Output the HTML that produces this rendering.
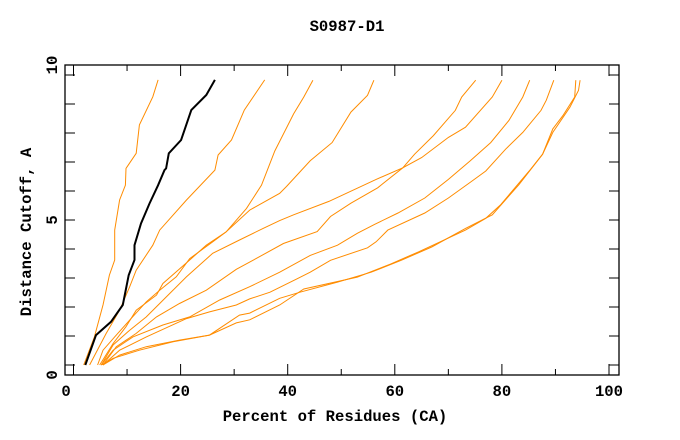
<!DOCTYPE html>
<html><head><meta charset="utf-8"><style>
html,body{margin:0;padding:0;background:#fff;}
svg{display:block;}
text{font-family:"Liberation Mono",monospace;font-weight:bold;font-size:15.6px;fill:#000;}
</style></head><body>
<svg id="chart" width="680" height="440">
<text x="347" y="31" text-anchor="middle">S0987-D1</text>
<text x="335" y="421" text-anchor="middle">Percent of Residues (CA)</text>
<text transform="translate(31,232) rotate(-90)" text-anchor="middle">Distance Cutoff, A</text>
<g id="axes"></g>
<g id="series"></g>
</svg>
<script>
const xTicks=[0,10,20,30,40,50,60,70,80,90,100];
const xTickLabels=["0","20","40","60","80","100"];
const yTicks=[0,1,2,3,4,5,6,7,8,9,10];
const yTickLabels=["0","5","10"];
const line1=[[1.9,0],[3.9,0.97],[5.5,2.07],[6.7,3.1],[7.7,3.62],[7.7,4.65],[8.6,5.69],[9.7,6.2],[9.8,6.78],[11.7,7.3],[12.3,8.28],[14.8,9.25],[15.8,9.83]];
const lineBlack=[[2.2,0],[4.2,1.03],[7.0,1.49],[9.2,2.07],[10.3,3.1],[11.4,3.62],[11.4,4.13],[12.6,4.88],[14.2,5.57],[15.8,6.2],[17.0,6.72],[17.3,6.78],[17.8,7.3],[20.1,7.76],[22.0,8.79],[24.8,9.31],[26.4,9.83]];
const line3=[[3.0,0],[6.1,1.09],[8.6,1.89],[10.5,2.7],[11.7,3.27],[14.8,4.13],[16.1,4.65],[21.1,5.69],[26.4,6.72],[27.0,7.24],[29.5,7.76],[31.9,8.79],[35.7,9.83]];
const line4=[[4.5,0],[5.5,0.51],[8.0,1.03],[10.5,1.55],[13.6,2.18],[16.1,2.58],[19.2,3.04],[21.7,3.67],[26.0,4.25],[28.5,4.59],[32.3,5.4],[35.1,6.2],[37.6,7.38],[41.1,8.66],[43.0,9.24],[44.7,9.82]];
const line5=[[4.9,0],[7.4,0.74],[9.8,1.32],[11.7,1.89],[15.5,2.41],[16.7,2.81],[21.7,3.62],[24.8,4.13],[28.5,4.59],[32.9,5.34],[38.5,5.92],[39.8,6.16],[44.2,7.04],[48.3,7.67],[51.8,8.72],[54.9,9.3],[56.1,9.82]];
const line6=[[5.2,0],[7.4,0.69],[10.5,1.2],[13.6,1.66],[16.1,2.12],[21.1,3.04],[26.0,3.85],[31.0,4.31],[35.4,4.71],[38.5,4.98],[41.1,5.18],[47.7,5.64],[56.5,6.4],[61.5,6.8],[63.7,7.27],[67.2,7.91],[71.3,8.78],[72.5,9.24],[75.1,9.82]];
const line7=[[5.5,0],[8.0,0.63],[11.7,1.09],[15.5,1.66],[19.8,2.12],[24.8,2.58],[30.4,3.3],[32.9,3.55],[39.2,4.19],[45.5,4.6],[48.0,5.12],[51.8,5.58],[56.8,6.11],[61.5,6.8],[65.0,7.15],[70.0,7.85],[73.2,8.2],[78.2,9.24],[80.0,9.82]];
const line8=[[5.2,0],[7.4,0.51],[11.1,0.97],[16.7,1.38],[21.7,1.66],[27.3,2.24],[32.9,2.7],[38.5,3.2],[44.2,3.78],[49.3,4.13],[53.0,4.54],[56.2,4.85],[60.6,5.24],[65.6,5.76],[70.0,6.4],[74.1,7.04],[77.9,7.67],[81.3,8.43],[83.9,9.24],[85.2,9.82]];
const line9=[[5.5,0],[8.6,0.51],[13.6,0.97],[21.1,1.6],[25.4,1.83],[30.4,2.07],[32.9,2.28],[36.7,2.51],[41.7,2.97],[44.2,3.2],[48.0,3.61],[54.9,4.04],[56.5,4.25],[58.7,4.65],[65.6,5.24],[70.0,5.76],[74.4,6.34],[77.0,6.69],[80.7,7.44],[83.9,8.02],[87.3,8.78],[88.3,9.13],[89.7,9.82]];
const line10=[[5.5,0],[8.6,0.34],[13.6,0.63],[19.8,0.86],[25.4,1.03],[31.0,1.72],[32.9,1.79],[38.5,2.3],[42.3,2.51],[49.3,2.86],[55.6,3.2],[61.2,3.61],[66.9,4.07],[73.2,4.71],[78.2,5.18],[83.2,6.22],[87.6,7.27],[89.5,8.14],[91.4,8.6],[93.6,9.24],[93.8,9.82]];
const line11=[[5.2,0],[7.4,0.23],[12.3,0.51],[18.6,0.8],[25.4,1.03],[30.4,1.45],[32.9,1.56],[38.5,2.07],[43.0,2.62],[53.0,3.03],[59.3,3.49],[64.4,3.9],[73.2,4.65],[77.0,5.06],[79.8,5.53],[85.1,6.69],[87.6,7.27],[89.5,8.02],[92.7,8.89],[94.3,9.47],[94.6,9.82]];

const NS="http://www.w3.org/2000/svg";
const L=65,R=619,T=65,B=375;
function xs(v){return 73.5+5.355*v;}
function ys(v){return 365-29*v;}
function mk(tag,attrs,parent){const e=document.createElementNS(NS,tag);for(const k in attrs)e.setAttribute(k,attrs[k]);parent.appendChild(e);return e;}
const axes=document.getElementById('axes');
const frame=mk('rect',{x:L,y:T,width:R-L,height:B-T,fill:'none',stroke:'#000','stroke-width':1.3},axes);


xTicks.forEach(function(v,i){
  const len=(i%2===0)?11:6;const x=xs(v);
  const t1=mk('line',{x1:x,x2:x,y1:B,y2:B-len,stroke:'#000','stroke-width':1},axes);
  
  
  const t2=mk('line',{x1:x,x2:x,y1:T,y2:T+len,stroke:'#000','stroke-width':1},axes);
  
  
});
xTickLabels.forEach(function(s,i){
  const x=i===0?66:xs(i*20);
  const t=mk('text',{x:x,y:396,'text-anchor':'middle'},axes);t.textContent=s;
  
  
});
yTicks.forEach(function(v){
  const y=ys(v);
  const t1=mk('line',{x1:L,x2:L+10,y1:y,y2:y,stroke:'#000','stroke-width':1},axes);
  
  
  const t2=mk('line',{x1:R,x2:R-10,y1:y,y2:y,stroke:'#000','stroke-width':1},axes);
  
  
});
const yLabPos=[375,220,65];
yTickLabels.forEach(function(s,i){
  const t=mk('text',{transform:'translate(57,'+yLabPos[i]+') rotate(-90)','text-anchor':'middle'},axes);t.textContent=s;
  
  
});
const series=document.getElementById('series');
const allLines=[line1,line3,line4,line5,line6,line7,line8,line9,line10,line11];
allLines.forEach(function(d,i){
  const p=mk('polyline',{points:d.map(function(q){return xs(q[0]).toFixed(1)+','+ys(q[1]).toFixed(1);}).join(' '),fill:'none',stroke:'#ff8c00','stroke-width':1},series);
  
  
});
const pb=mk('polyline',{points:lineBlack.map(function(q){return xs(q[0]).toFixed(1)+','+ys(q[1]).toFixed(1);}).join(' '),fill:'none',stroke:'#000','stroke-width':2},series);


</script>
</body></html>
